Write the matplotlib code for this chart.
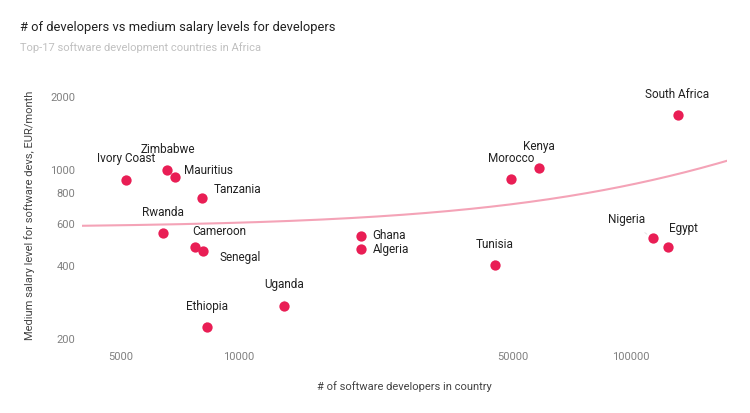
import numpy as np
import matplotlib.pyplot as plt
from matplotlib.ticker import FixedLocator, NullLocator

plt.rcParams['font.family'] = ['Roboto', 'DejaVu Sans']

countries = ['Ivory Coast', 'Zimbabwe', 'Mauritius', 'Tanzania', 'Rwanda', 'Cameroon',
             'Senegal', 'Ghana', 'Algeria', 'Tunisia', 'Morocco', 'Kenya',
             'South Africa', 'Nigeria', 'Egypt', 'Uganda', 'Ethiopia']
developers = [5150, 6560, 6870, 8050, 6390, 7730,
              8080, 20500, 20500, 44900, 49400, 58300,
              132000, 113500, 124200, 13060, 8270]
salary = [909, 1000, 938, 769, 551, 482,
          463, 534, 470, 404, 918, 1019,
          1693, 522, 481, 275, 224]

# label offsets in pixels (dx, dy, ha)
offsets = {
    'Ivory Coast': (0, 21, 'center'), 'Zimbabwe': (1, 20, 'center'),
    'Mauritius': (9, 6, 'left'), 'Tanzania': (12, 8, 'left'),
    'Rwanda': (0, 20, 'center'), 'Cameroon': (-3, 15, 'left'),
    'Senegal': (17, -7, 'left'), 'Ghana': (11, 0, 'left'),
    'Algeria': (12, 0, 'left'), 'Tunisia': (0, 21, 'center'),
    'Morocco': (0, 20, 'center'), 'Kenya': (0, 21, 'center'),
    'South Africa': (-1, 20, 'center'), 'Nigeria': (-26, 19, 'center'),
    'Egypt': (16, 18, 'center'), 'Uganda': (0, 21, 'center'),
    'Ethiopia': (0, 21, 'center'),
}

xticks = [5000, 10000, 50000, 100000]
yticks = [200, 400, 600, 800, 1000, 2000]

fig = plt.figure(figsize=(7.5, 4.13), dpi=100)
ax = fig.add_axes([82 / 750, 1 - 345 / 413, 645 / 750, 260 / 413])
ax.set_xscale('log')
ax.set_yscale('log')
ax.set_xlim(3978, 175800)
ax.set_ylim(189, 2245)

# linear trendline
k, b = np.polyfit(developers, salary, 1)
xs = np.geomspace(3978, 175800, 200)
ax.plot(xs, k * xs + b, color='#f4a3b7', lw=1.5, zorder=1)

ax.scatter(developers, salary, s=55, color='#e91e55', zorder=3, linewidths=0)

for name, x, y in zip(countries, developers, salary):
    dx, dy, ha = offsets[name]
    ax.annotate(name, (x, y), xytext=(dx, dy), textcoords='offset pixels',
                ha=ha, va='center', fontsize=8.5, color='#222222',
                arrowprops=dict(arrowstyle='-', color='#e3e3e3', lw=0.7,
                                shrinkA=5, shrinkB=5) if ha == 'center' else None,
                zorder=2)

ax.xaxis.set_major_locator(FixedLocator(xticks))
ax.xaxis.set_minor_locator(NullLocator())
ax.yaxis.set_major_locator(FixedLocator(yticks))
ax.yaxis.set_minor_locator(NullLocator())
ax.set_xticklabels([str(t) for t in xticks])
ax.set_yticklabels([str(t) for t in yticks])
ax.tick_params(length=0, labelsize=8, labelcolor='#808080', pad=5)
for s in ax.spines.values():
    s.set_visible(False)

ax.set_xlabel('# of software developers in country', fontsize=8, color='#444444', labelpad=14)
ax.set_ylabel('Medium salary level for software devs, EUR/month', fontsize=8,
              color='#444444', labelpad=11)

fig.text(20 / 750, 1 - 28 / 413, '# of developers vs medium salary levels for developers',
         fontsize=9.3, color='#212121', va='center')
fig.text(20 / 750, 1 - 48 / 413, 'Top-17 software development countries in Africa',
         fontsize=8, color='#c0c0c0', va='center')

fig.savefig('out.png', dpi=100)
